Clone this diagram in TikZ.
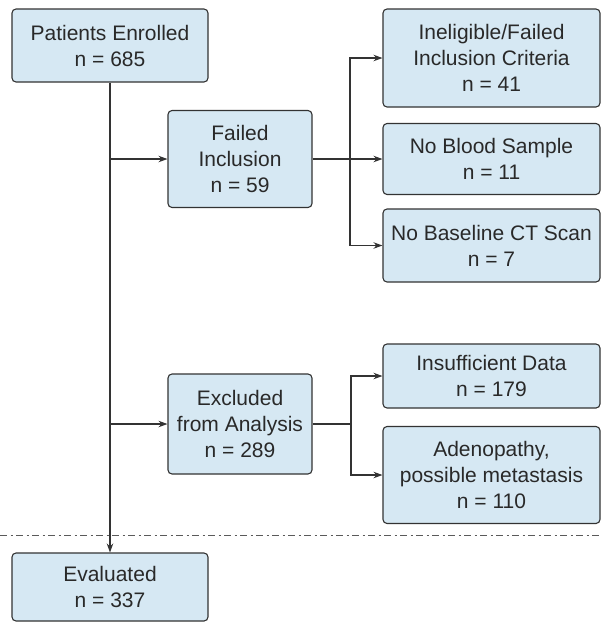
\documentclass[tikz,border=0pt]{standalone}
\usepackage{fontspec}
\setmainfont{Liberation Sans}
\usepackage{tikz}
\usetikzlibrary{arrows.meta, positioning, calc}
\usepackage{xcolor}
\definecolor{boxblue}{RGB}{214,232,243}
\definecolor{linegray}{RGB}{51,51,51}
\definecolor{sepgray}{RGB}{90,90,90}

\begin{document}
\begin{tikzpicture}[
  x=1pt, y=-1pt,
  box/.style={draw=linegray, fill=boxblue, rounded corners=4pt, line width=1.1pt, font=\fontsize{21}{26}\selectfont, text=linegray!80!black, align=center, inner sep=1pt},
  leftbox/.style={box, minimum width=196pt},
  midbox/.style={box, minimum width=144pt},
  sidebox/.style={box, minimum width=217pt},
  arr/.style={-{Stealth[length=9pt, width=6.5pt]}, line width=1.1pt, linegray},
  ln/.style={line width=1.1pt, linegray},
]
\useasboundingbox (0,0) rectangle (602,622);

% === Main column ===
\node[leftbox, minimum height=73pt] (enrolled) at (110, 45.5) {Patients Enrolled\\n = 685};
\node[leftbox, minimum height=68pt] (evaluated) at (110, 587) {Evaluated\\n = 337};
\draw[arr] (enrolled.south) -- (evaluated.north);

% === Failed inclusion branch ===
\node[midbox, minimum height=97pt] (failed) at (240, 159) {Failed\\Inclusion\\n = 59};
\draw[arr] (enrolled.south |- failed.west) -- (failed.west);

\node[sidebox, minimum height=98pt] (criteria) at (491.5, 58) {Ineligible/Failed\\Inclusion Criteria\\n = 41};
\node[sidebox, minimum height=71pt] (blood) at (491.5, 159) {No Blood Sample\\n = 11};
\node[sidebox, minimum height=73pt] (ctscan) at (491.5, 245.5) {No Baseline CT Scan\\n = 7};

\coordinate (fsplit) at (350, 159);
\draw[arr] (failed.east) -- (blood.west);
\draw[arr] (fsplit) |- (criteria.west);
\draw[arr] (fsplit) |- (ctscan.west);

% === Excluded branch ===
\node[midbox, minimum height=100pt] (excluded) at (240, 424) {Excluded\\from Analysis\\n = 289};
\draw[arr] (enrolled.south |- excluded.west) -- (excluded.west);

\node[sidebox, minimum height=64pt] (insufficient) at (491.5, 376) {Insufficient Data\\n = 179};
\node[sidebox, minimum height=97pt] (adenopathy) at (491.5, 475) {Adenopathy,\\possible metastasis\\n = 110};

\coordinate (esplit) at (351, 424);
\draw[ln] (excluded.east) -- (esplit);
\draw[arr] (esplit) |- (insufficient.west);
\draw[arr] (esplit) |- (adenopathy.west);

% Divider
\draw[sepgray, line width=1pt, dash pattern=on 7pt off 3.5pt on 2pt off 3.5pt] (0, 535) -- (602, 535);
\end{tikzpicture}
\end{document}
